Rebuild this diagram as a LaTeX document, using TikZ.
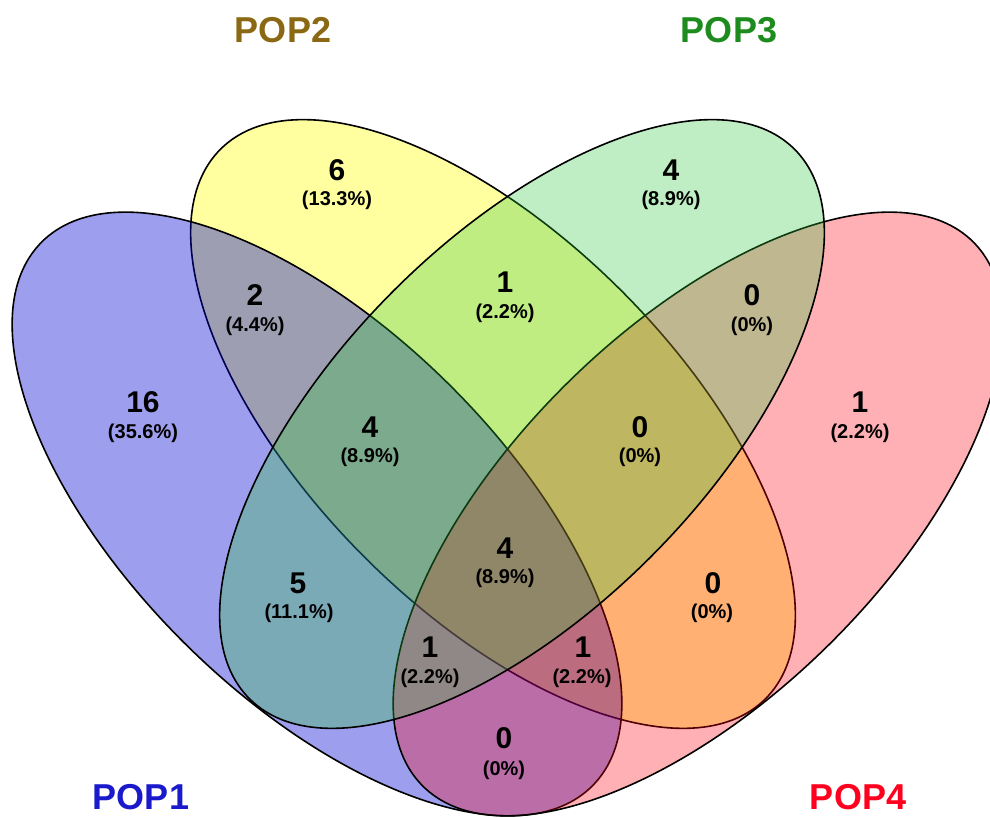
\documentclass[tikz,border=0pt]{standalone}
\usepackage{fontspec}
\setmainfont{Liberation Sans}
\begin{document}
\begin{tikzpicture}[x=1pt,y=1pt,
  vset/.style={draw=black, line width=1.6pt},
  num/.style={font=\bfseries\fontsize{30}{30}\selectfont, inner sep=0pt},
  pct/.style={font=\bfseries\fontsize{20}{20}\selectfont, inner sep=0pt},
  cat/.style={font=\bfseries\fontsize{36}{36}\selectfont, inner sep=0pt}]
\definecolor{fillY}{RGB}{255,255,65}
\definecolor{fillB}{RGB}{0,0,210}
\definecolor{fillR}{RGB}{255,0,13}
\definecolor{fillG}{RGB}{45,198,58}
\definecolor{catB}{RGB}{26,26,204}
\definecolor{catY}{RGB}{139,105,20}
\definecolor{catG}{RGB}{30,139,30}
\definecolor{catR}{RGB}{255,0,30}
\useasboundingbox (0,0) rectangle (990,818);
\begin{scope}
\clip (0,0) rectangle (990,818);
% POP2 (yellow)
\draw[vset, fill=fillY, fill opacity=0.5, shift={(493,394)}, rotate=-45.3] (0,0) ellipse [x radius=387, y radius=185];
% POP1 (blue)
\draw[vset, fill=fillB, fill opacity=0.38, shift={(317,304)}, rotate=-44.55] (0,0) ellipse [x radius=387, y radius=185];
% POP4 (red)
\draw[vset, fill=fillR, fill opacity=0.31, shift={(698,304)}, rotate=44.55] (0,0) ellipse [x radius=387, y radius=185];
% POP3 (green)
\draw[vset, fill=fillG, fill opacity=0.3, shift={(522,394)}, rotate=45.3] (0,0) ellipse [x radius=387, y radius=185];
\end{scope}
% counts
\node[num] (nA) at (143,416) {16};
\node[pct] (pA) at (143,385) {(35.6\%)};
\node[num] (nB) at (337,648) {6};
\node[pct] (pB) at (337,618) {(13.3\%)};
\node[num] (nC) at (671,648) {4};
\node[pct] (pC) at (671,618) {(8.9\%)};
\node[num] (nD) at (860,416) {1};
\node[pct] (pD) at (860,385) {(2.2\%)};
\node[num] (nAB) at (255,523) {2};
\node[pct] (pAB) at (255,492) {(4.4\%)};
\node[num] (nBC) at (505,536) {1};
\node[pct] (pBC) at (505,505) {(2.2\%)};
\node[num] (nCD) at (752,523) {0};
\node[pct] (pCD) at (752,492) {(0\%)};
\node[num] (nABC) at (370,391) {4};
\node[pct] (pABC) at (370,361) {(8.9\%)};
\node[num] (nBCD) at (640,391) {0};
\node[pct] (pBCD) at (640,361) {(0\%)};
\node[num] (nAC) at (298,235) {5};
\node[pct] (pAC) at (299,205) {(11.1\%)};
\node[num] (nABCD) at (505,270) {4};
\node[pct] (pABCD) at (505,240) {(8.9\%)};
\node[num] (nBD) at (713,235) {0};
\node[pct] (pBD) at (712,205) {(0\%)};
\node[num] (nACD) at (430,171) {1};
\node[pct] (pACD) at (430,140) {(2.2\%)};
\node[num] (nABD) at (583,171) {1};
\node[pct] (pABD) at (582,140) {(2.2\%)};
\node[num] (nAD) at (504,80) {0};
\node[pct] (pAD) at (504,48) {(0\%)};
% category labels
\node[cat, text=catB] (c1) at (141,21) {POP1};
\node[cat, text=catY] (c2) at (283,788) {POP2};
\node[cat, text=catG] (c3) at (729,788) {POP3};
\node[cat, text=catR] (c4) at (858,21) {POP4};
\end{tikzpicture}
\end{document}
